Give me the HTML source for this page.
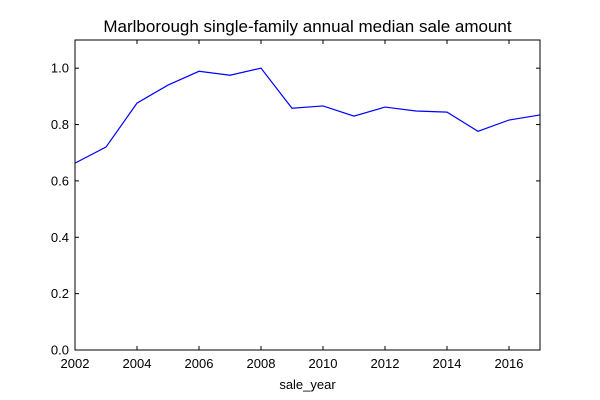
<!DOCTYPE html>
<html><head><meta charset="utf-8"><style>
html,body{margin:0;padding:0;background:#fff;width:600px;height:400px;overflow:hidden;position:relative;}
svg{display:block;position:absolute;left:0;top:0;}
svg text{font-family:"Liberation Sans","DejaVu Sans",sans-serif;}
</style></head><body>
<svg id="chart" width="600" height="400"></svg>
<script>
const years=[2002,2003,2004,2005,2006,2007,2008,2009,2010,2011,2012,2013,2014,2015,2016,2017];
const values=[0.663,0.72,0.876,0.94,0.989,0.975,1.0,0.858,0.866,0.83,0.862,0.848,0.844,0.776,0.816,0.834];
const xTicks=[2002,2004,2006,2008,2010,2012,2014,2016];
const yTicks=[0.0,0.2,0.4,0.6,0.8,1.0];
const L=75,R=540,T=40,B=350,xMin=2002,xMax=2017,yMin=0,yMax=1.1;
const sx=v=>L+(v-xMin)/(xMax-xMin)*(R-L);
const sy=v=>B-(v-yMin)/(yMax-yMin)*(B-T);
const NS="http://www.w3.org/2000/svg";
const svg=document.getElementById('chart');
function mk(tag,attrs,parent){const e=document.createElementNS(NS,tag);for(const k in attrs)e.setAttribute(k,attrs[k]);(parent||svg).appendChild(e);return e;}
let d='';
years.forEach((y,i)=>{d+=(i?'L':'M')+sx(y).toFixed(2)+','+sy(values[i]).toFixed(2);});
const line=mk('path',{d:d,fill:'none',stroke:'#0000ff','stroke-width':1.2});


xTicks.forEach(t=>{
  const x=sx(t);
  mk('line',{x1:x,x2:x,y1:B,y2:B-4,stroke:'#000'});
  mk('line',{x1:x,x2:x,y1:T,y2:T+4,stroke:'#000'});
  const tx=mk('text',{x:x,y:B+18,'text-anchor':'middle','font-size':13});
  tx.textContent=t;
  
  
});
yTicks.forEach(t=>{
  const y=sy(t);
  mk('line',{x1:L,x2:L+4,y1:y,y2:y,stroke:'#000'});
  mk('line',{x1:R,x2:R-4,y1:y,y2:y,stroke:'#000'});
  const tx=mk('text',{x:L-6,y:y+4.5,'text-anchor':'end','font-size':13});
  tx.textContent=t.toFixed(1);
  
  
});
const frame=mk('rect',{x:L,y:T,width:R-L,height:B-T,fill:'none',stroke:'#000','stroke-width':1});


const title=mk('text',{x:(L+R)/2,y:32,'text-anchor':'middle','font-size':17});
title.textContent='Marlborough single-family annual median sale amount';


const xt=mk('text',{x:(L+R)/2,y:389,'text-anchor':'middle','font-size':13});
xt.textContent='sale_year';


</script>
</body></html>
